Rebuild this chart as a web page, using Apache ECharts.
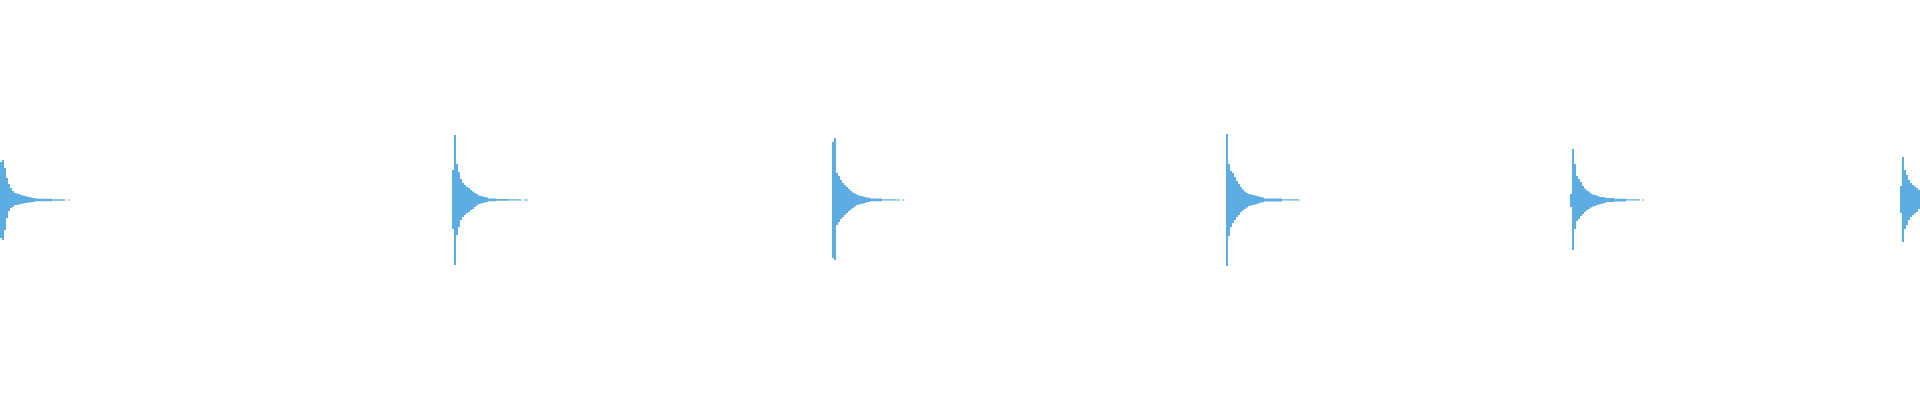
<!DOCTYPE html>
<html>
<head>
<meta charset="utf-8">
<script src="https://cdn.jsdelivr.net/npm/echarts@6/dist/echarts.min.js"></script>
<style>
html,body{margin:0;padding:0;background:#fff;}
#chart{width:1920px;height:400px;}
</style>
</head>
<body>
<div id="chart"></div>
<script>
// Total number of sample bins along the x axis
const sampleCount = 960;
// Sample bin where each burst begins
const burstStarts = [0, 226, 416, 613, 785, 950];
// Upper envelope of each burst (amplitude above zero)
const burstUpper = [
  [38,40,32,22,16,12,9,7,6.5,6,5,4.5,4,3.5,3,2.5,2,1.8,1.5,1.3,1.2,1.2,1.2,1.2,1.2,1.2,0.8,0.8,0.8,0.8,0.8,0.8,0.5,0,0.5],
  [30,65,36,28,21,17,15,13,12,10,8.5,7,6,4.5,4,3.5,3,2.5,1.5,1.5,1.5,1.5,1,1,1,1,1,1,0.7,0.7,0.7,0.7,0.7,0.7,0.5,0,0.5,0.5],
  [58,62,27,24,20,17,15,13,11,9,7.5,6.5,5.5,4.5,4,3.5,3,2.5,2.2,1.5,1.5,1.5,1.5,1.5,1.5,0.8,0.8,0.8,0.8,0.8,0.8,0.8,0.5,0.5,0,0.5],
  [66,36,29,27,23,19,16,13,10.5,8.5,7,6,5.5,5,4.5,4,3.5,3,2.5,1.5,1.5,1.5,1.5,1.5,1.5,1.5,1.5,1.5,0.8,0.8,0.8,0.8,0.8,0.8,0.8,0.8,0.5],
  [6,51,36,24,21,18,14,11.5,9.5,8.5,6.5,5.5,5,4.5,3.5,3,3,2.5,2,2,2,2,1.3,1.3,1.3,1.3,1.3,1.3,0.7,0.7,0.7,0.7,0.7,0.7,0.7,0,0.5],
  [14,43,30,25,20,17,15,13.5,12,10]
];
// Lower envelope of each burst (amplitude below zero)
const burstLower = [
  [-38,-40,-30,-18,-11,-8,-7,-5,-5,-4.5,-4,-3.5,-3,-3,-2.5,-2.2,-2,-1.5,-1.2,-1.2,-1.2,-1.2,-1.2,-1.2,-1.2,-1.2,-0.8,-0.8,-0.8,-0.8,-0.8,-0.8,-0.5,0,-0.5],
  [-29,-65,-35,-27,-20,-17,-15,-13,-12,-10,-9,-7,-5.5,-4,-3.5,-3,-2.5,-2,-1.2,-1.2,-1.2,-1.2,-0.8,-0.8,-0.8,-0.8,-0.8,-0.8,-0.5,-0.5,-0.5,-0.5,-0.5,-0.5,-0.5,0,-0.5,-0.5],
  [-58,-60,-25,-22,-19,-17,-15,-13,-11,-9.5,-8,-6.5,-5,-4.5,-4,-3.5,-3,-2.2,-2,-1.2,-1.2,-1.2,-1.2,-1.2,-1.2,-0.6,-0.6,-0.6,-0.6,-0.6,-0.6,-0.6,-0.5,-0.5,0,-0.5],
  [-66,-36,-27,-23,-20,-17,-15,-12,-10.5,-9,-7.5,-6,-5.5,-5,-4.5,-4,-3,-2.5,-2.2,-1.5,-1.5,-1.5,-1.5,-1.5,-1.5,-1.5,-1.5,-1.5,-0.6,-0.6,-0.6,-0.6,-0.6,-0.6,-0.6,-0.6,-0.5],
  [-7,-50,-29,-21,-19,-16,-14,-12,-10,-9,-7.5,-6.5,-6,-5,-4.5,-4,-3.5,-3,-2,-2,-2,-2,-1.5,-1.5,-1.5,-1.5,-1.5,-1.5,-0.6,-0.6,-0.6,-0.6,-0.6,-0.6,-0.6,0,-0.5],
  [-13,-42,-29,-25,-20,-17,-15,-13.5,-12,-9]
];

const categories = [];
for (let i = 0; i < sampleCount; i++) categories.push('s' + i);

// Build [binIndex, low, high] items from the burst arrays
const items = [];
burstStarts.forEach((start, b) => {
  const up = burstUpper[b];
  const lo = burstLower[b];
  const n = Math.max(up.length, lo.length);
  for (let k = 0; k < n; k++) {
    const idx = start + k;
    if (idx >= sampleCount) break;
    const hi = up[k] || 0;
    const low = lo[k] || 0;
    if (hi === 0 && low === 0) continue;
    items.push([idx, low, hi]);
  }
});

const color = '#5dade2';
const chart = echarts.init(document.getElementById('chart'), null, {renderer: 'canvas'});
chart.setOption({
  animation: false,
  backgroundColor: '#ffffff',
  grid: {left: 0, right: 0, top: 0, bottom: 0, containLabel: false},
  xAxis: {
    type: 'category',
    data: categories,
    show: false,
    boundaryGap: true
  },
  yAxis: {
    type: 'value',
    min: -200,
    max: 200,
    show: false
  },
  series: [{
    type: 'custom',
    silent: true,
    encode: {x: 0, y: [1, 2]},
    data: items,
    renderItem: function (params, api) {
      const idx = api.value(0);
      const pLow = api.coord([idx, api.value(1)]);
      const pHigh = api.coord([idx, api.value(2)]);
      const band = api.size([1, 0])[0];
      return {
        type: 'rect',
        shape: {
          x: pLow[0] - band / 2,
          y: pHigh[1],
          width: band,
          height: pLow[1] - pHigh[1]
        },
        style: {fill: color}
      };
    }
  }]
});
</script>
</body>
</html>
